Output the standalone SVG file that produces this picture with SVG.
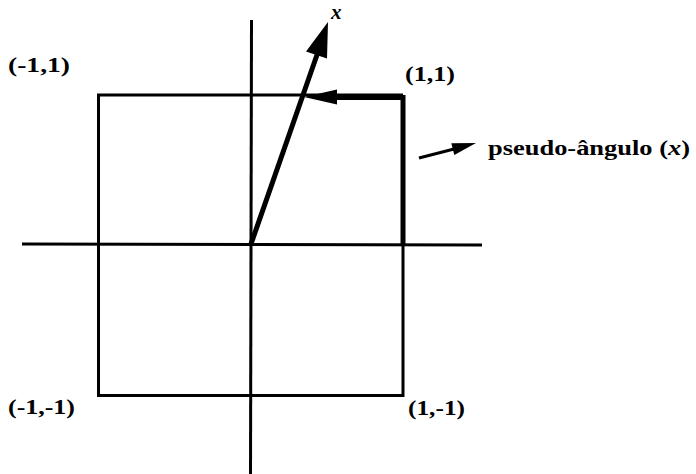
<svg xmlns="http://www.w3.org/2000/svg" width="696" height="474" viewBox="0 0 696 474">
<style>
.lbl{font-family:"Liberation Serif","DejaVu Serif",serif;font-size:21px;font-weight:bold;fill:#000}
.it{font-style:italic}
.ax{stroke:#000;stroke-width:3;fill:none}
.sq{stroke:#000;stroke-width:3;fill:none}
.thick{stroke:#000;stroke-width:5;fill:none}
.head{fill:#000;stroke:none}
</style>
<rect width="696" height="474" fill="#fff"/>
<g id="axes">
<line class="ax" x1="251.5" y1="20" x2="250.5" y2="474"/>
<line class="ax" x1="22" y1="244" x2="482" y2="245"/>
</g>
<g id="square">
<path class="sq" d="M403 95 L98.5 95 L98.5 395.5 L403 395.5 L403 245"/>
</g>
<g id="connectors">
<path class="thick" d="M403 245 L403 97.5 L334 97.5"/>
<polygon class="head" points="304,97 337,89.5 337,104.5"/>
<line class="thick" x1="251" y1="244" x2="318" y2="52"/>
<polygon class="head" points="328,22 306,51.4 327,58.6"/>
<line class="ax" x1="419" y1="158" x2="456" y2="148.5"/>
<polygon class="head" points="476,143 451.3,143.3 454.3,154.9"/>
</g>
<g id="label-x"><text class="lbl it" x="331" y="19" font-size="20">x</text></g>
<g id="label-m1p1"><text class="lbl" x="8" y="72" textLength="62" lengthAdjust="spacingAndGlyphs">(-1,1)</text></g>
<g id="label-p1p1"><text class="lbl" x="405" y="81" textLength="50" lengthAdjust="spacingAndGlyphs">(1,1)</text></g>
<g id="label-m1m1"><text class="lbl" x="8" y="414" textLength="67" lengthAdjust="spacingAndGlyphs">(-1,-1)</text></g>
<g id="label-p1m1"><text class="lbl" x="408" y="415" textLength="57" lengthAdjust="spacingAndGlyphs">(1,-1)</text></g>
<g id="label-pseudo"><text class="lbl" x="488" y="155" textLength="202" lengthAdjust="spacingAndGlyphs">pseudo-ângulo (<tspan class="it">x</tspan>)</text></g>
</svg>
